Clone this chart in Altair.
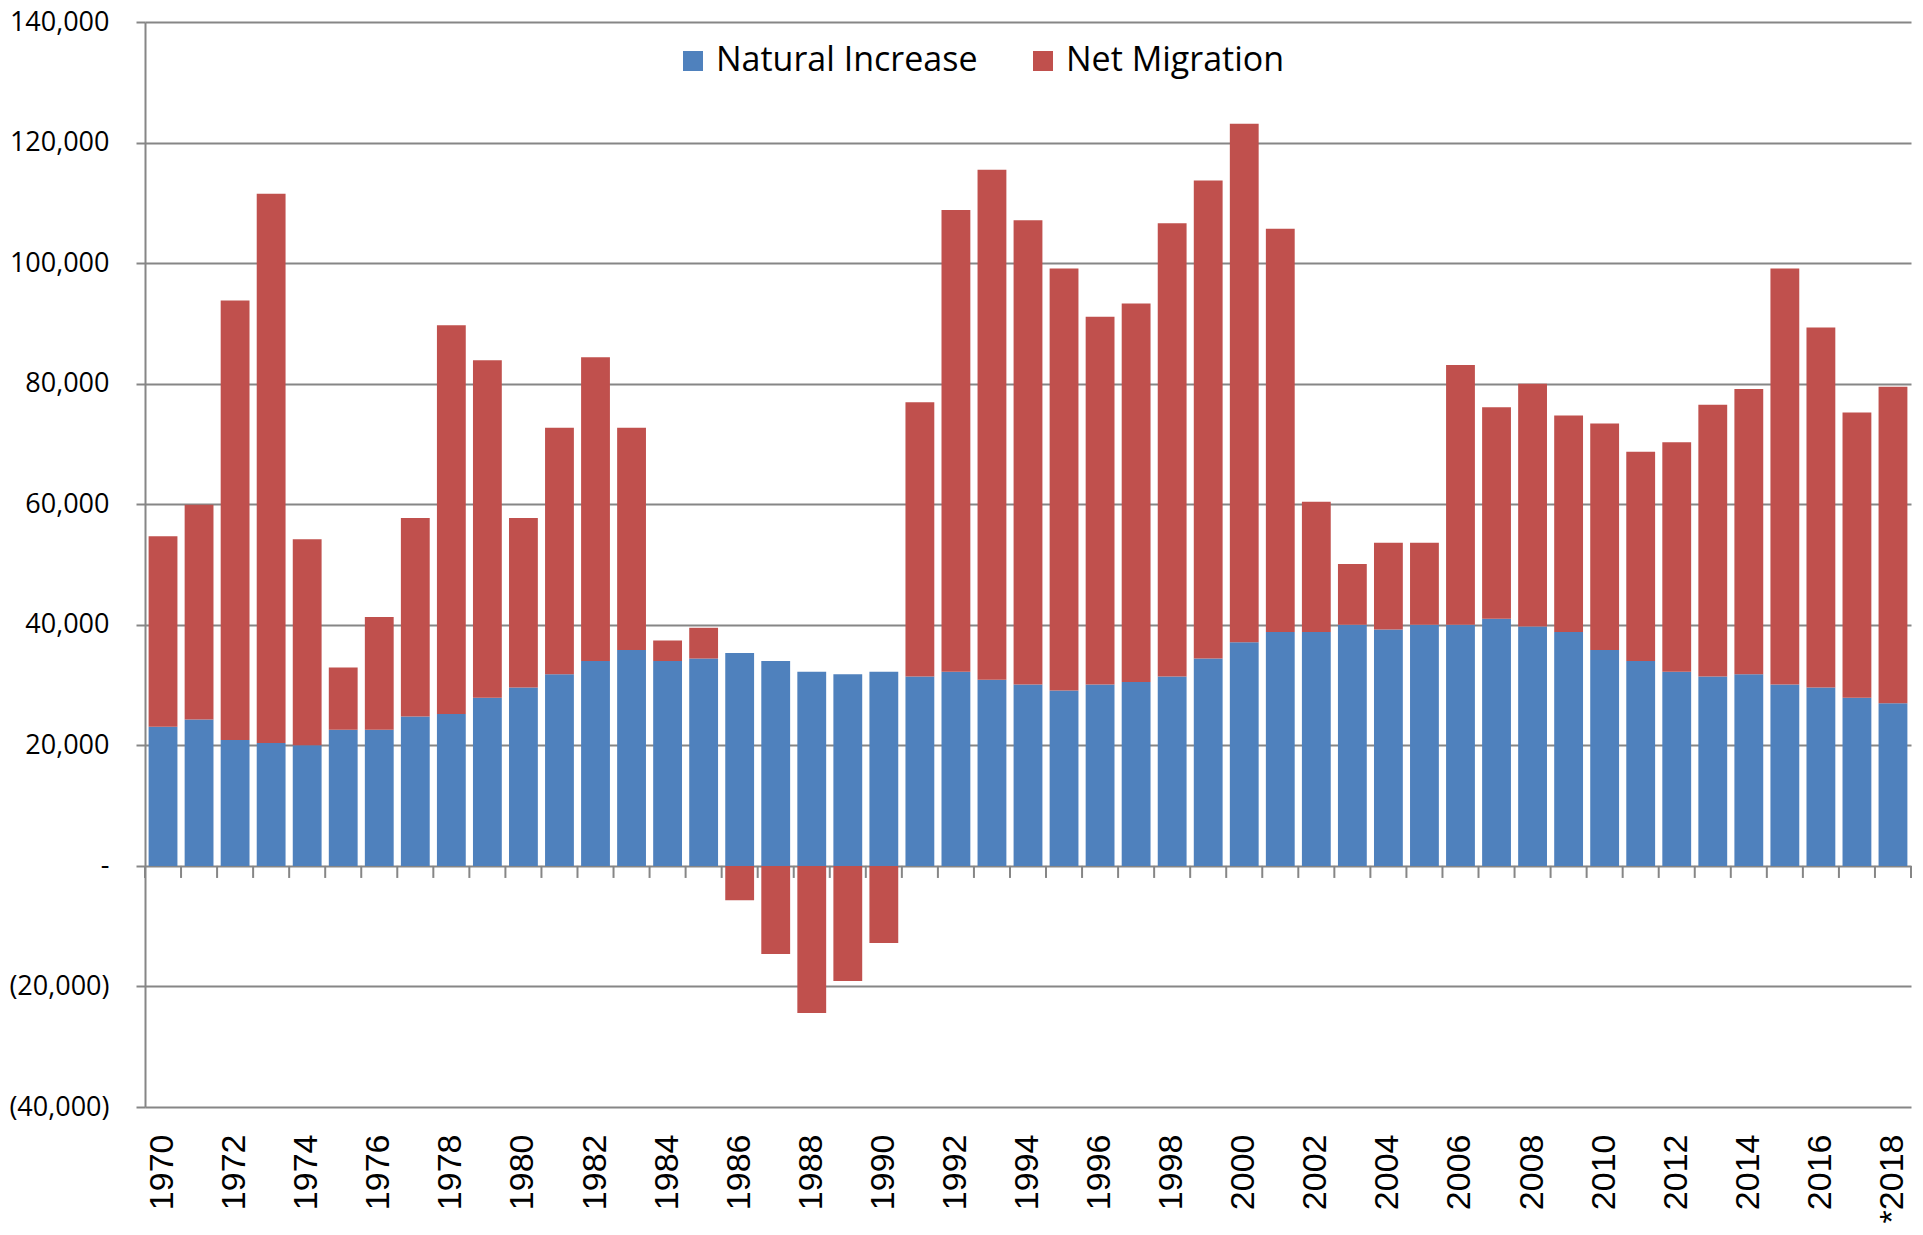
import altair as alt
import pandas as pd

# ---- data ----
year_labels = [str(y) for y in range(1970, 2018)] + ["*2018"]

natural_increase = [
    23100, 24300, 20900, 20400, 20000, 22600, 22600, 24800, 25200, 27900,   # 1970-1979
    29600, 31800, 34000, 35800, 34000, 34400, 35300, 34000, 32200, 31800,   # 1980-1989
    32200, 31400, 32200, 30900, 30100, 29100, 30100, 30500, 31400, 34400,   # 1990-1999
    37100, 38800, 38800, 40000, 39200, 40000, 40000, 41000, 39700, 38800,   # 2000-2009
    35800, 34000, 32200, 31400, 31800, 30100, 29600, 27900, 27000,          # 2010-2018
]

net_migration = [
    31600, 35600, 72900, 91100, 34200, 10300, 18700, 32900, 64500, 56000,   # 1970-1979
    28100, 40900, 50400, 36900, 3400, 5100, -5700, -14600, -24400, -19100,  # 1980-1989
    -12800, 45500, 76600, 84600, 77000, 70000, 61000, 62800, 75200, 79300,  # 1990-1999
    86000, 66900, 21600, 10100, 14400, 13600, 43100, 35100, 40300, 35900,   # 2000-2009
    37600, 34700, 38100, 45100, 47300, 69000, 59700, 47300, 52500,          # 2010-2018
]

series_names = ["Natural Increase", "Net Migration"]
series_colors = ["#4F81BD", "#C0504D"]
y_tick_values = [-40000, -20000, 0, 20000, 40000, 60000, 80000, 100000, 120000, 140000]
x_label_values = year_labels[::2]

rows = []
for i, yl in enumerate(year_labels):
    rows.append({"year": yl, "series": series_names[0], "value": natural_increase[i], "order": 0})
    rows.append({"year": yl, "series": series_names[1], "value": net_migration[i], "order": 1})
df = pd.DataFrame(rows)

tick_df = pd.DataFrame({"year": year_labels})
end_df = pd.DataFrame({"year": [year_labels[-1]]})

GRID = "#868686"

y_label_expr = (
    "datum.value == 0 ? '-\u00a0\u00a0\u00a0\u00a0' : "
    "(datum.value < 0 ? '(' + format(-datum.value, ',') + ')' : format(datum.value, ','))"
)

y_enc = alt.Y(
    "value:Q",
    stack="zero",
    scale=alt.Scale(domain=[-40000, 140000], nice=False),
    axis=alt.Axis(
        values=y_tick_values,
        labelExpr=y_label_expr,
        grid=True,
        gridColor=GRID,
        gridWidth=2,
        domainColor=GRID,
        domainWidth=2,
        tickColor=GRID,
        tickWidth=2,
        tickSize=9,
        labelFont="Open Sans",
        labelFontSize=27,
        labelColor="black",
        labelPadding=27,
        title=None,
    ),
)

bars = alt.Chart(df).mark_bar().encode(
    x=alt.X(
        "year:N",
        sort=year_labels,
        scale=alt.Scale(domain=year_labels, paddingInner=0.2, paddingOuter=0.1),
        axis=alt.Axis(
            values=x_label_values,
            labelAngle=-90,
            labelFont="Liberation Sans",
            labelFontSize=34,
            labelColor="black",
            labelPadding=27,
            domain=False,
            ticks=False,
            grid=False,
            title=None,
        ),
    ),
    y=y_enc,
    color=alt.Color(
        "series:N",
        scale=alt.Scale(domain=series_names, range=series_colors),
        legend=alt.Legend(
            title=None,
            orient="none",
            legendX=531,
            legendY=22,
            direction="horizontal",
            symbolType="square",
            symbolSize=400,
            symbolStrokeWidth=0,
            labelFont="Open Sans",
            labelFontSize=34,
            labelColor="black",
            labelLimit=0,
            labelOffset=6,
            columnPadding=48,
        ),
    ),
    order=alt.Order("order:Q", sort="ascending"),
)

tick_scale = alt.Scale(domain=year_labels, paddingInner=0, paddingOuter=0)

ticks = alt.Chart(tick_df).mark_rule(color=GRID, strokeWidth=2).encode(
    x=alt.X("year:N", sort=year_labels, scale=tick_scale, bandPosition=0, axis=None),
    y=alt.datum(0),
    y2=alt.datum(-2000),
)

end_tick = alt.Chart(end_df).mark_rule(color=GRID, strokeWidth=2).encode(
    x=alt.X("year:N", sort=year_labels, scale=tick_scale, bandPosition=1, axis=None),
    y=alt.datum(0),
    y2=alt.datum(-2000),
)

chart = (
    alt.layer(bars, ticks, end_tick)
    .resolve_scale(x="independent")
    .properties(
        width=1766,
        height=1085,
        autosize=alt.AutoSizeParams(type="none"),
        padding={"left": 137, "top": 14, "right": 4, "bottom": 120},
        background="white",
    )
    .configure_view(stroke=None)
)

chart.save("out.html", embed_options={"renderer": "svg", "actions": False})
